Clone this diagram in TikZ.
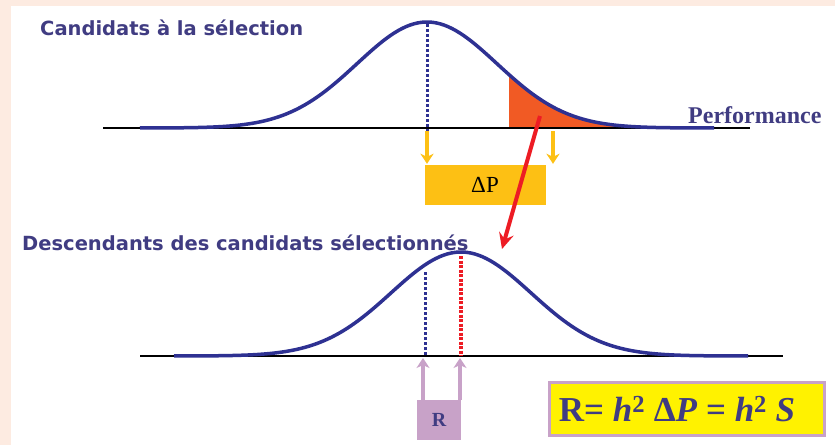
\documentclass[tikz,border=0pt]{standalone}
\usepackage{fontspec}
\setmainfont{Liberation Serif}
\newfontfamily\titlefont{DejaVu Sans}
\usepackage{xcolor}
\usetikzlibrary{arrows.meta, positioning, calc}
\definecolor{peach}{RGB}{253,235,225}
\definecolor{navy}{RGB}{46,49,146}
\definecolor{ink}{RGB}{64,60,130}
\definecolor{tailfill}{RGB}{241,90,36}
\definecolor{gold}{RGB}{253,192,20}
\definecolor{redline}{RGB}{237,28,36}
\definecolor{lilac}{RGB}{200,162,200}
\definecolor{lemon}{RGB}{255,242,0}

\begin{document}
\begin{tikzpicture}[x=1pt, y=-1pt,
  title/.style={anchor=west, text=ink, font=\titlefont\bfseries\fontsize{19.5}{22}\selectfont, inner sep=0pt},
  curve/.style={draw=navy, line width=3.5pt, line join=round},
  axis/.style={draw=black, line width=2.5pt},
  meanline/.style={draw=navy, line width=3pt, dash pattern=on 3pt off 2pt},
  gainline/.style={draw=redline, line width=4pt, dash pattern=on 3pt off 1.5pt},
  diffbox/.style={fill=gold, minimum width=121pt, minimum height=40pt, inner sep=0pt,
                  font=\fontsize{23}{25}\selectfont},
  respbox/.style={fill=lilac, minimum width=44pt, minimum height=40pt, inner sep=0pt,
                  text=ink, font=\bfseries\fontsize{20}{22}\selectfont},
  eqbox/.style={draw=lilac, line width=3.5pt, fill=lemon, minimum width=275pt, minimum height=53pt,
                inner sep=0pt, text=ink, font=\bfseries\fontsize{35}{37}\selectfont},
  down/.style={-{Stealth[length=10pt, width=13pt, inset=3pt]}, draw=gold, line width=3.5pt},
  up/.style={-{Stealth[length=10pt, width=13pt, inset=3pt]}, draw=lilac, line width=4pt},
  sel/.style={-{Stealth[length=16pt, width=15pt, inset=6pt]}, draw=redline, line width=4pt}]
  \useasboundingbox (0,0) rectangle (835,445);
  \fill[peach] (0,0) rectangle (835,445);
  \fill[white] (11,6) rectangle (835,445);

  % candidates
  \node[title] (top) at (40,28) {Candidats à la sélection};
  \fill[tailfill] (509,127) -- plot[domain=509:620, samples=40] (\x,{128-106*exp(-((\x-427)/70)^2/2)}) -- (620,127) -- cycle;
  \draw[axis] (103,128) -- (750,128);
  \draw[curve] plot[domain=140:714, samples=150] (\x,{128-106*exp(-((\x-427)/70)^2/2)});
  \draw[meanline] (427,24) -- (427,131);
  \node[anchor=base west, text=ink, font=\bfseries\fontsize{24}{26}\selectfont, inner sep=0pt] (perf) at (688,123) {Performance};

  % selection differential
  \coordinate (m1) at (427,131);
  \coordinate (t1) at (553,131);
  \node[diffbox] (dp) at (485,185) {ΔP};
  \draw[down] (m1) -- ($(m1 |- dp.north)+(0,-1)$);
  \draw[down] (t1) -- ($(t1 |- dp.north)+(0,-1)$);

  % offspring
  \node[title] (bot) at (22,243) {Descendants des candidats sélectionnés};
  \draw[axis] (140,356) -- (783,356);
  \draw[curve] plot[domain=174:748, samples=150] (\x,{356-104*exp(-((\x-461)/70)^2/2)});
  \draw[meanline] (425,272) -- (425,356);
  \draw[gainline] (461,256) -- (461,356);

  \coordinate (sel) at (540,116);
  \coordinate (off) at (502,249);
  \draw[sel] (sel) -- (off);

  % response
  \coordinate (m2) at (423,358);
  \coordinate (m3) at (460,358);
  \node[respbox] (r) at (439,420) {R};
  \draw[up] (r.north -| m2) -- (m2);
  \draw[up] (r.north -| m3) -- (m3);

  \node[eqbox] (eq) at (687,409) {R= \textit{h}\textsuperscript{2} Δ\textit{P} = \textit{h}\textsuperscript{2} \textit{S}\hspace*{20pt}};
\end{tikzpicture}
\end{document}
